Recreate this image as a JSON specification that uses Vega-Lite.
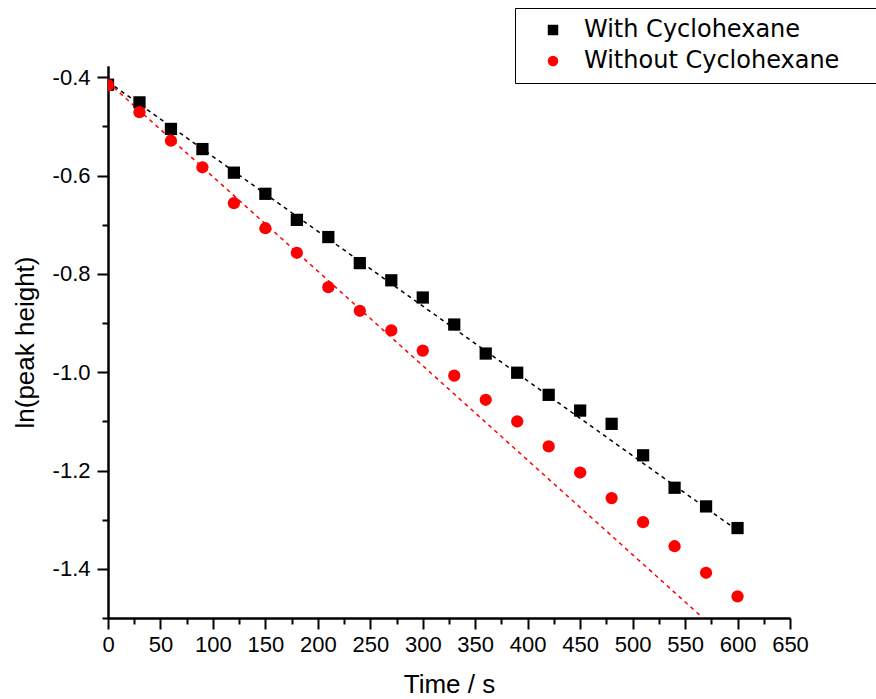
{
  "$schema": "https://vega.github.io/schema/vega-lite/v6.json",
  "width": 682,
  "height": 552,
  "autosize": {"type": "none"},
  "padding": {"left": 108, "top": 66, "right": 86, "bottom": 81},
  "background": "white",
  "config": {
    "view": {"stroke": null},
    "font": "Liberation Sans",
    "axis": {
      "grid": false,
      "domainColor": "black",
      "domainWidth": 2,
      "tickColor": "black",
      "tickWidth": 2,
      "labelFont": "Liberation Sans",
      "labelFontSize": 22,
      "labelColor": "black",
      "labelOverlap": false,
      "labelFlush": false,
      "titleFont": "Liberation Sans",
      "titleFontSize": 26,
      "titleFontWeight": "normal",
      "titleColor": "black"
    },
    "legend": {
      "orient": "none",
      "legendX": 407,
      "legendY": -58,
      "strokeColor": "black",
      "fillColor": "white",
      "padding": 10,
      "symbolOffset": 16,
      "labelOffset": 19,
      "rowPadding": 7,
      "labelFont": "DejaVu Sans",
      "labelFontSize": 24,
      "labelColor": "black",
      "symbolSize": 110,
      "symbolStrokeWidth": 0,
      "labelLimit": 400,
      "titleOrient": "right",
      "titleOpacity": 0,
      "titleFontSize": 8,
      "titlePadding": 26
    }
  },
  "datasets": {
    "pts": [
      {"t": 0, "y": -0.415, "series": "With Cyclohexane"},
      {"t": 30, "y": -0.451, "series": "With Cyclohexane"},
      {"t": 60, "y": -0.505, "series": "With Cyclohexane"},
      {"t": 90, "y": -0.546, "series": "With Cyclohexane"},
      {"t": 120, "y": -0.594, "series": "With Cyclohexane"},
      {"t": 150, "y": -0.637, "series": "With Cyclohexane"},
      {"t": 180, "y": -0.690, "series": "With Cyclohexane"},
      {"t": 210, "y": -0.725, "series": "With Cyclohexane"},
      {"t": 240, "y": -0.778, "series": "With Cyclohexane"},
      {"t": 270, "y": -0.813, "series": "With Cyclohexane"},
      {"t": 300, "y": -0.848, "series": "With Cyclohexane"},
      {"t": 330, "y": -0.903, "series": "With Cyclohexane"},
      {"t": 360, "y": -0.962, "series": "With Cyclohexane"},
      {"t": 390, "y": -1.001, "series": "With Cyclohexane"},
      {"t": 420, "y": -1.046, "series": "With Cyclohexane"},
      {"t": 450, "y": -1.078, "series": "With Cyclohexane"},
      {"t": 480, "y": -1.105, "series": "With Cyclohexane"},
      {"t": 510, "y": -1.169, "series": "With Cyclohexane"},
      {"t": 540, "y": -1.235, "series": "With Cyclohexane"},
      {"t": 570, "y": -1.273, "series": "With Cyclohexane"},
      {"t": 600, "y": -1.317, "series": "With Cyclohexane"},
      {"t": 0, "y": -0.416, "series": "Without Cyclohexane"},
      {"t": 30, "y": -0.471, "series": "Without Cyclohexane"},
      {"t": 60, "y": -0.529, "series": "Without Cyclohexane"},
      {"t": 90, "y": -0.583, "series": "Without Cyclohexane"},
      {"t": 120, "y": -0.656, "series": "Without Cyclohexane"},
      {"t": 150, "y": -0.707, "series": "Without Cyclohexane"},
      {"t": 180, "y": -0.757, "series": "Without Cyclohexane"},
      {"t": 210, "y": -0.827, "series": "Without Cyclohexane"},
      {"t": 240, "y": -0.875, "series": "Without Cyclohexane"},
      {"t": 270, "y": -0.915, "series": "Without Cyclohexane"},
      {"t": 300, "y": -0.956, "series": "Without Cyclohexane"},
      {"t": 330, "y": -1.007, "series": "Without Cyclohexane"},
      {"t": 360, "y": -1.056, "series": "Without Cyclohexane"},
      {"t": 390, "y": -1.100, "series": "Without Cyclohexane"},
      {"t": 420, "y": -1.151, "series": "Without Cyclohexane"},
      {"t": 450, "y": -1.204, "series": "Without Cyclohexane"},
      {"t": 480, "y": -1.256, "series": "Without Cyclohexane"},
      {"t": 510, "y": -1.305, "series": "Without Cyclohexane"},
      {"t": 540, "y": -1.354, "series": "Without Cyclohexane"},
      {"t": 570, "y": -1.408, "series": "Without Cyclohexane"},
      {"t": 600, "y": -1.456, "series": "Without Cyclohexane"}
    ],
    "fits": [
      {"t": 0, "y": -0.409, "series": "With Cyclohexane"},
      {"t": 600, "y": -1.322, "series": "With Cyclohexane"},
      {"t": 0, "y": -0.41, "series": "Without Cyclohexane"},
      {"t": 567, "y": -1.5, "series": "Without Cyclohexane"}
    ]
  },
  "resolve": {"axis": {"x": "independent", "y": "independent"}},
  "layer": [
    {
      "data": {"name": "fits"},
      "transform": [{"filter": "datum.series === 'With Cyclohexane'"}],
      "mark": {"type": "line", "color": "black", "strokeWidth": 1.5, "strokeDash": [4, 4]},
      "encoding": {
        "x": {"field": "t", "type": "quantitative",
          "scale": {"domain": [0, 650], "nice": false, "zero": false},
          "axis": {"orient": "bottom", "values": [25, 75, 125, 175, 225, 275, 325, 375, 425, 475, 525, 575, 625], "labels": false, "tickSize": 6, "title": null}},
        "y": {"field": "y", "type": "quantitative",
          "scale": {"domain": [-1.5, -0.377], "nice": false, "zero": false},
          "axis": {"orient": "left", "values": [-0.5, -0.7, -0.9, -1.1, -1.3, -1.5], "labels": false, "tickSize": 6, "title": null}}
      }
    },
    {
      "data": {"name": "fits"},
      "transform": [{"filter": "datum.series === 'Without Cyclohexane'"}],
      "mark": {"type": "line", "color": "#ff0000", "strokeWidth": 1.5, "strokeDash": [4, 4]},
      "encoding": {
        "x": {"field": "t", "type": "quantitative", "axis": null},
        "y": {"field": "y", "type": "quantitative", "axis": null}
      }
    },
    {
      "data": {"name": "pts"},
      "mark": {"type": "point", "filled": true, "opacity": 1, "size": 150, "clip": true},
      "encoding": {
        "x": {"field": "t", "type": "quantitative",
          "axis": {"orient": "bottom", "values": [0, 50, 100, 150, 200, 250, 300, 350, 400, 450, 500, 550, 600, 650], "tickSize": 11, "labelPadding": 5, "title": "Time / s", "titlePadding": 16, "format": "d"}},
        "y": {"field": "y", "type": "quantitative",
          "axis": {"orient": "left", "values": [-0.4, -0.6, -0.8, -1.0, -1.2, -1.4], "tickSize": 11, "labelPadding": 7, "title": "ln(peak height)", "titlePadding": 14,
            "labelExpr": "datum.value < 0 ? '-' + format(-datum.value, '.1f') : format(datum.value, '.1f')"}},
        "color": {"field": "series", "type": "nominal",
          "scale": {"domain": ["With Cyclohexane", "Without Cyclohexane"], "range": ["black", "#ff0000"]},
          "legend": {"title": "M"}},
        "shape": {"field": "series", "type": "nominal",
          "scale": {"domain": ["With Cyclohexane", "Without Cyclohexane"], "range": ["square", "circle"]},
          "legend": {"title": "M"}}
      }
    }
  ]
}
